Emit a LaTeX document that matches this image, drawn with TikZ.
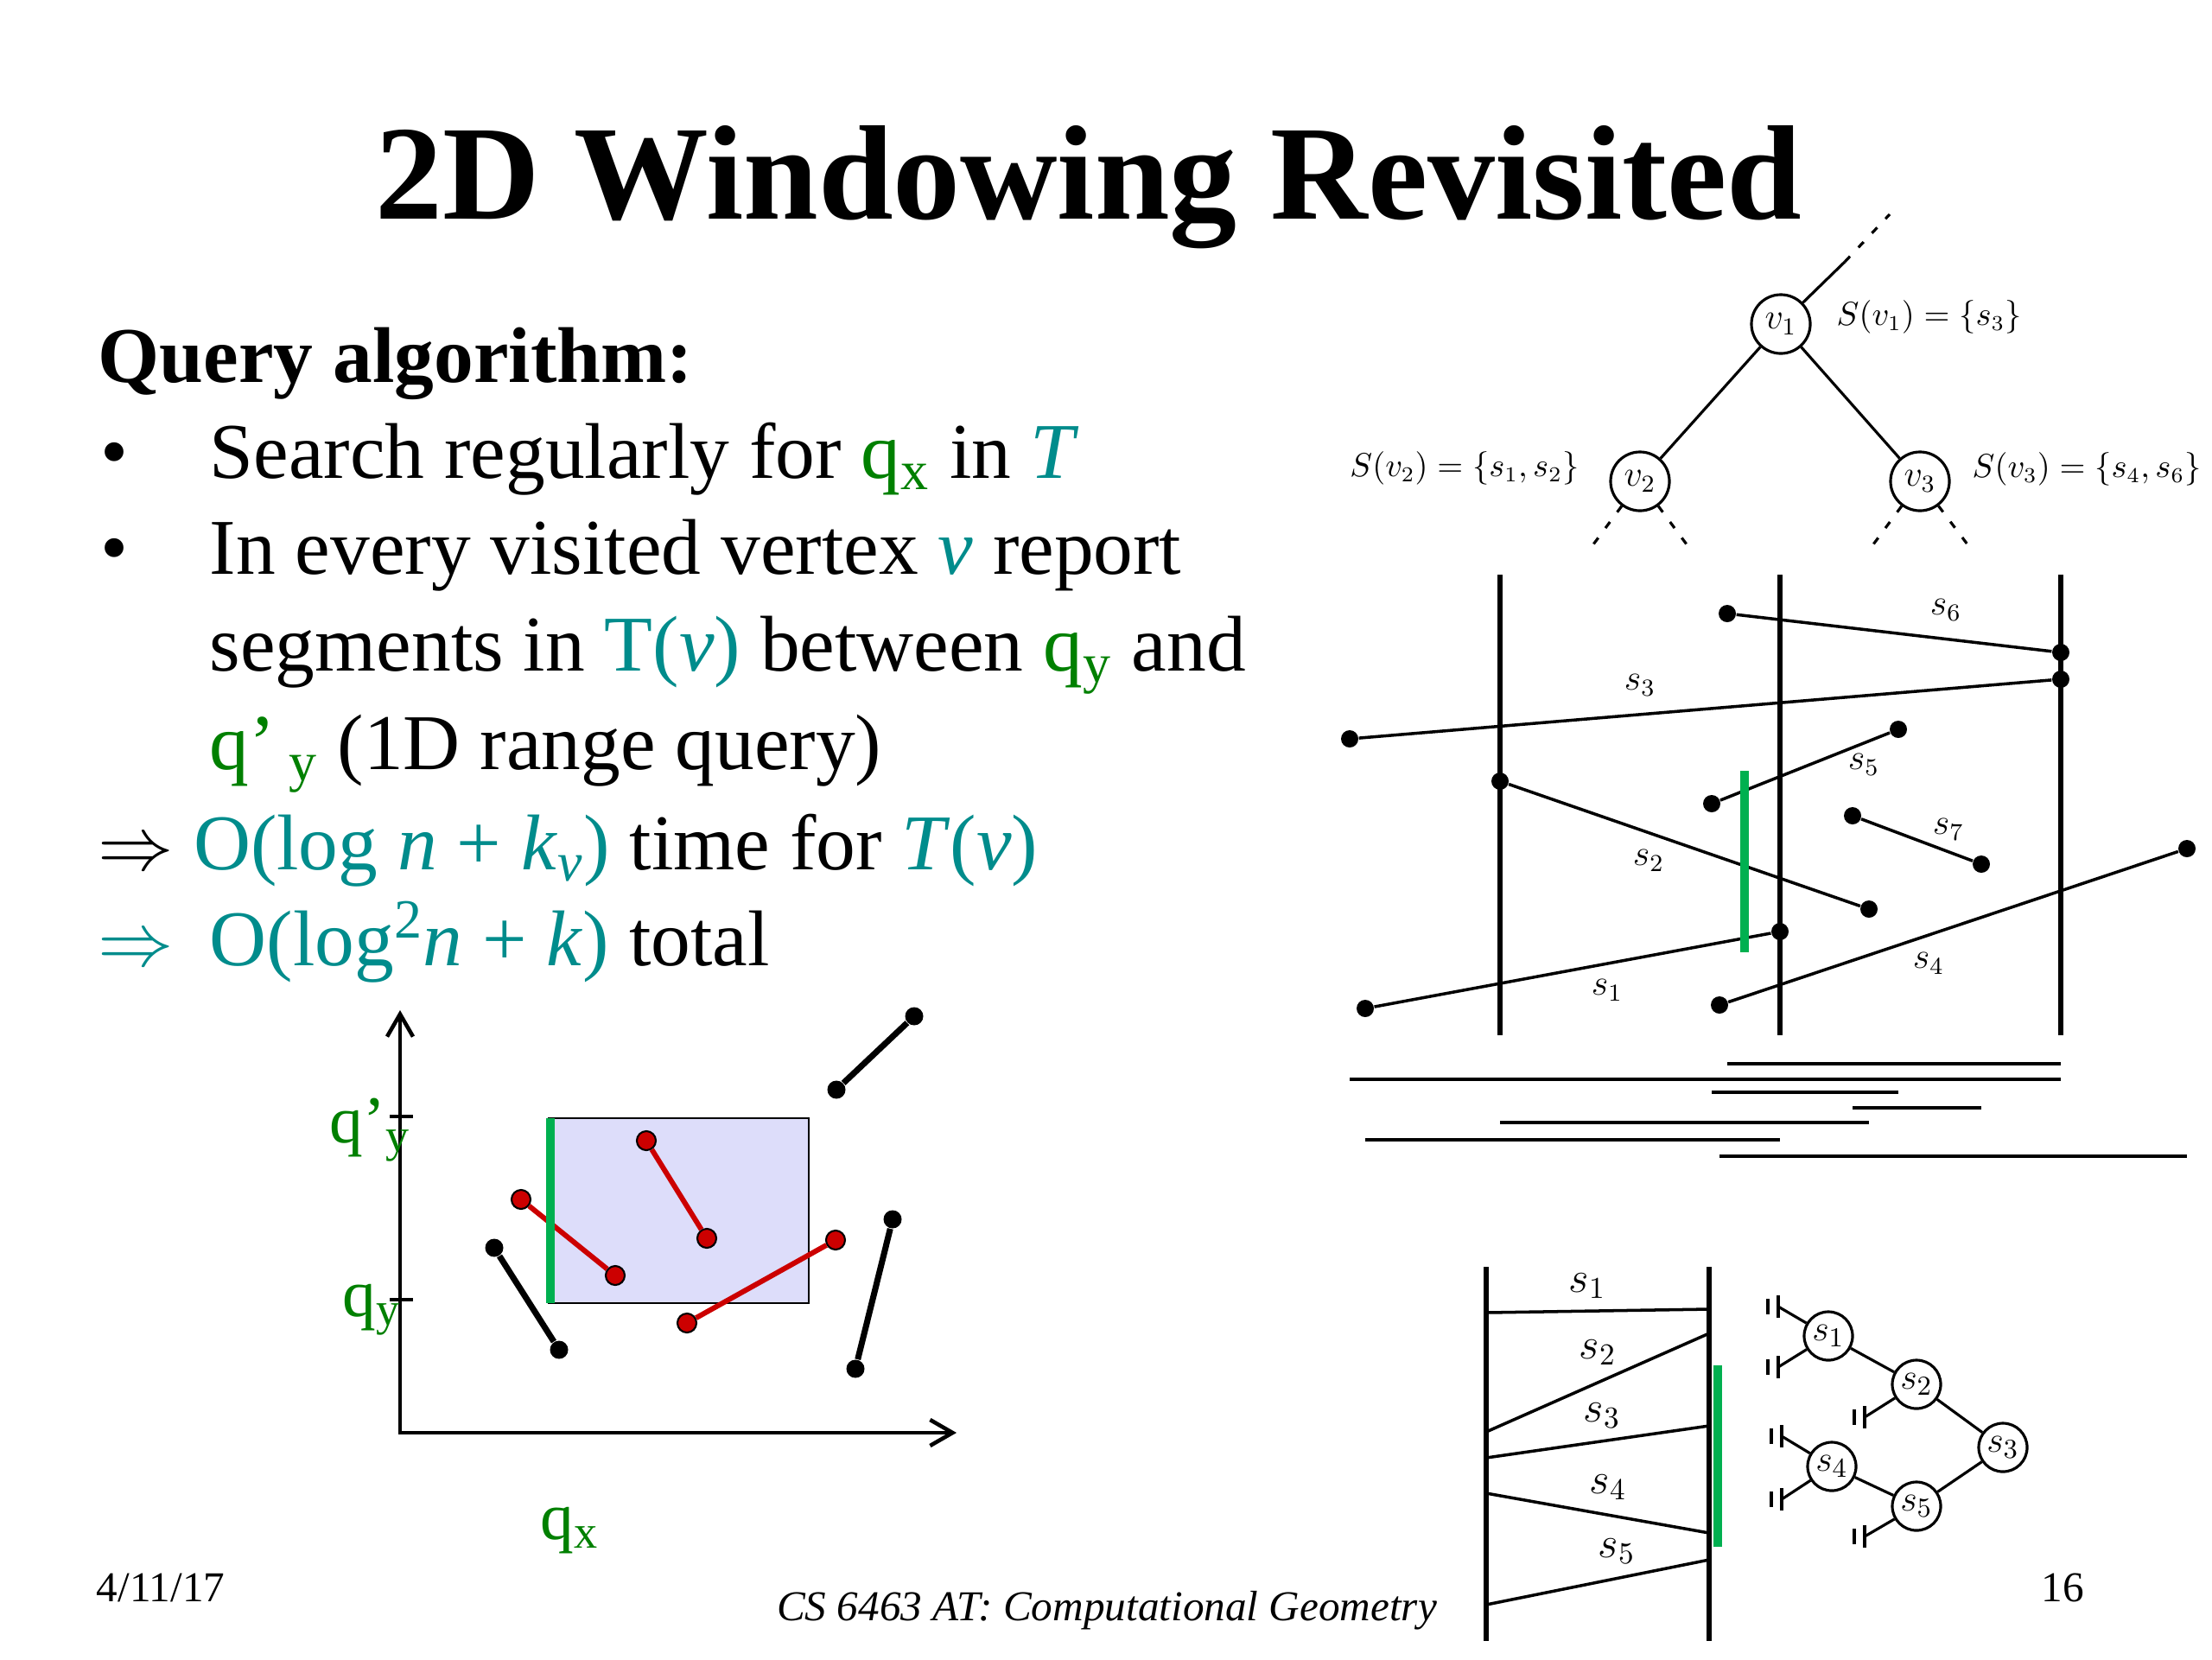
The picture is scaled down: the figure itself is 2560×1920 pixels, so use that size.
\documentclass[tikz,border=0pt]{standalone}
\usepackage{fontspec}
\setmainfont{Liberation Serif}
\usetikzlibrary{arrows.meta}
\definecolor{qgreen}{RGB}{0,128,0}
\definecolor{tealc}{RGB}{0,140,140}
\definecolor{barg}{RGB}{0,176,80}
\definecolor{segred}{RGB}{204,0,0}
\definecolor{winblue}{RGB}{221,221,250}
\tikzset{
  body/.style={anchor=base west, inner sep=0pt, font=\fontsize{26}{31}\selectfont},
  foot/.style={anchor=base west, inner sep=0pt, font=\fontsize{14}{17}\selectfont},
  setlab/.style={inner sep=0pt, font=\fontsize{10.5}{13}\selectfont},
  seglab/.style={inner sep=0pt, font=\fontsize{12}{14}\selectfont},
  slablab/.style={inner sep=0pt, font=\fontsize{14}{16}\selectfont},
  plotlab/.style={anchor=base west, inner sep=0pt, text=qgreen, font=\fontsize{22}{26}\selectfont},
  dot/.style={circle, fill=black, inner sep=0pt, minimum size=0.2cm},
  reddot/.style={circle, fill=segred, draw=black, line width=0.6pt, inner sep=0pt, minimum size=0.22cm},
  seg/.style={line width=1pt},
  slab/.style={line width=1.7pt},
  proj/.style={line width=1.1pt},
  query/.style={draw=barg, line width=2.8pt},
  axis/.style={line width=1.3pt},
  tnode/.style={circle, draw, line width=0.9pt, inner sep=0pt, minimum size=0.68cm, font=\fontsize{11.5}{14}\selectfont},
  snode/.style={circle, draw, line width=0.9pt, inner sep=0pt, minimum size=0.56cm, font=\fontsize{13}{15}\selectfont},
  dots/.style={line width=0.9pt, dash pattern=on 2.5pt off 4pt},
}
\newcommand\leafbars[1]{%
  \draw[line width=0.9pt] ([yshift=0.13cm]#1) -- ([yshift=-0.13cm]#1);
  \draw[line width=1.4pt] ([xshift=-0.12cm,yshift=0.09cm]#1) -- ([xshift=-0.12cm,yshift=-0.09cm]#1);}
\begin{document}
\begin{tikzpicture}[x=0.01cm, y=-0.01cm]
\useasboundingbox (0,0) rectangle (2560,1920);
\fill[white] (0,0) rectangle (2560,1920);

% title and text
\node[anchor=base, inner sep=0pt, font=\fontsize{44.3}{50}\selectfont\bfseries] (title) at (1260,253) {2D Windowing Revisited};
\node[body, font=\fontsize{26}{31}\selectfont\bfseries] (head) at (113,442) {Query algorithm:};
\node[body] (b1) at (116,553) {\textbullet};
\node[body] (l1) at (242,553) {Search regularly for \textcolor{qgreen}{q\textsubscript{x}} in \textcolor{tealc}{\textit{T}}};
\node[body] (b2) at (116,664) {\textbullet};
\node[body] (l2) at (242,664) {In every visited vertex \textcolor{tealc}{\textit{v}} report};
\node[body] (l3) at (242,776) {segments in \textcolor{tealc}{T(\textit{v})} between \textcolor{qgreen}{q\textsubscript{y}} and};
\node[body] (l4) at (242,890) {\textcolor{qgreen}{q'\,\textsubscript{y}} (1D range query)};
\node[body] (l5) at (113,1006) {$\Rightarrow$ \textcolor{tealc}{O(log \textit{n} + \textit{k}\textsubscript{\textit{v}})} time for \textcolor{tealc}{\textit{T}(\textit{v})}};
\node[body] (a6) at (113,1117) {\textcolor{tealc}{$\Rightarrow$}};
\node[body] (l6) at (242,1117) {\textcolor{tealc}{O(log\textsuperscript{2}\textit{n} + \textit{k})} total};

% footer
\node[foot] (date) at (111,1853) {4/11/17};
\node[foot, anchor=base, font=\fontsize{14}{17}\selectfont\itshape] (course) at (1281,1875) {CS 6463 AT: Computational Geometry};
\node[foot] (page) at (2362,1853) {16};

% top tree
\node[tnode] (v1) at (2061,375) {$v_1$};
\node[tnode] (v2) at (1898,557) {$v_2$};
\node[tnode] (v3) at (2222,557) {$v_3$};
\coordinate (up) at (2135,303);
\coordinate (upend) at (2187,248);
\coordinate (v2l) at (1844,630);
\coordinate (v2r) at (1952,630);
\coordinate (v3l) at (2168,630);
\coordinate (v3r) at (2277,630);
\draw[line width=0.9pt] (v1) -- (v2);
\draw[line width=0.9pt] (v1) -- (v3);
\draw[line width=0.9pt] (v1) -- (up);
\draw[dots] (up) -- (upend);
\draw[dots] (v2) -- (v2l);
\draw[dots] (v2) -- (v2r);
\draw[dots] (v3) -- (v3l);
\draw[dots] (v3) -- (v3r);
\node[setlab, anchor=west] (sv1) at (2125,367) {$S(v_1)=\{s_3\}$};
\node[setlab, anchor=east] (sv2) at (1828,542) {$S(v_2)=\{s_1,s_2\}$};
\node[setlab, anchor=west] (sv3) at (2282,543) {$S(v_3)=\{s_4,s_6\}$};

% slabs with segments
\draw[slab] (1736,665) -- (1736,1198);
\draw[slab] (2060,665) -- (2060,1198);
\draw[slab] (2385,665) -- (2385,1198);
\node[dot] (s6l) at (1999,710) {};
\node[dot] (s6r) at (2385,755) {};
\node[dot] (s3l) at (1562,855) {};
\node[dot] (s3r) at (2385,786) {};
\node[dot] (s5l) at (1981,930) {};
\node[dot] (s5r) at (2197,844) {};
\node[dot] (s7l) at (2144,944) {};
\node[dot] (s7r) at (2293,1000) {};
\node[dot] (s2l) at (1736,904) {};
\node[dot] (s2r) at (2163,1052) {};
\node[dot] (s1l) at (1580,1167) {};
\node[dot] (s1r) at (2060,1078) {};
\node[dot] (s4l) at (1990,1163) {};
\node[dot] (s4r) at (2531,982) {};
\draw[seg] (s6l) -- (s6r);
\draw[seg] (s3l) -- (s3r);
\draw[seg] (s5l) -- (s5r);
\draw[seg] (s7l) -- (s7r);
\draw[seg] (s2l) -- (s2r);
\draw[seg] (s1l) -- (s1r);
\draw[seg] (s4l) -- (s4r);
\draw[query] (2019,892) -- (2019,1102);
\node[seglab] (ls6) at (2252,706) {$s_6$};
\node[seglab] (ls3) at (1898,793) {$s_3$};
\node[seglab] (ls5) at (2157,885) {$s_5$};
\node[seglab] (ls7) at (2255,960) {$s_7$};
\node[seglab] (ls2) at (1908,996) {$s_2$};
\node[seglab] (ls1) at (1860,1146) {$s_1$};
\node[seglab] (ls4) at (2232,1115) {$s_4$};

% x-projections
\coordinate (p1) at (0,1231);
\coordinate (p2) at (0,1249);
\coordinate (p3) at (0,1264);
\coordinate (p4) at (0,1282);
\coordinate (p5) at (0,1299);
\coordinate (p6) at (0,1319);
\coordinate (p7) at (0,1338);
\draw[proj] (s6l |- p1) -- (s6r |- p1);
\draw[proj] (s3l |- p2) -- (s3r |- p2);
\draw[proj] (s5l |- p3) -- (s5r |- p3);
\draw[proj] (s7l |- p4) -- (s7r |- p4);
\draw[proj] (s2l |- p5) -- (s2r |- p5);
\draw[proj] (s1l |- p6) -- (s1r |- p6);
\draw[proj] (s4l |- p7) -- (s4r |- p7);

% one slab and its tree
\draw[slab] (1720,1466) -- (1720,1899);
\draw[slab] (1978,1466) -- (1978,1899);
\draw[seg] (1720,1519) -- (1978,1515);
\draw[seg] (1720,1657) -- (1978,1543);
\draw[seg] (1720,1687) -- (1978,1650);
\draw[seg] (1720,1728) -- (1978,1774);
\draw[seg] (1720,1857) -- (1978,1805);
\draw[query] (1988,1580) -- (1988,1790);
\node[slablab] (ss1) at (1837,1488) {$s_1$};
\node[slablab] (ss2) at (1849,1565) {$s_2$};
\node[slablab] (ss3) at (1854,1638) {$s_3$};
\node[slablab] (ss4) at (1861,1721) {$s_4$};
\node[slablab] (ss5) at (1871,1795) {$s_5$};

\node[snode] (t1) at (2116,1546) {$s_1$};
\node[snode] (t2) at (2218,1602) {$s_2$};
\node[snode] (t3) at (2318,1675) {$s_3$};
\node[snode] (t4) at (2120,1697) {$s_4$};
\node[snode] (t5) at (2218,1743) {$s_5$};
\draw[line width=0.9pt] (t1) -- (t2);
\draw[line width=0.9pt] (t2) -- (t3);
\draw[line width=0.9pt] (t3) -- (t5);
\draw[line width=0.9pt] (t5) -- (t4);
\coordinate (f1) at (2058,1512);
\coordinate (f2) at (2058,1582);
\coordinate (f3) at (2158,1640);
\coordinate (f4) at (2062,1662);
\coordinate (f5) at (2062,1735);
\coordinate (f6) at (2158,1778);
\draw[line width=0.9pt] (t1) -- (f1);
\draw[line width=0.9pt] (t1) -- (f2);
\draw[line width=0.9pt] (t2) -- (f3);
\draw[line width=0.9pt] (t4) -- (f4);
\draw[line width=0.9pt] (t4) -- (f5);
\draw[line width=0.9pt] (t5) -- (f6);
\leafbars{f1}
\leafbars{f2}
\leafbars{f3}
\leafbars{f4}
\leafbars{f5}
\leafbars{f6}

% query window plot
\coordinate (O) at (463,1658);
\coordinate (ytip) at (463,1169);
\coordinate (xtip) at (1107,1658);
\filldraw[fill=winblue, draw=black, line width=0.5pt] (635,1294) rectangle (936,1508);
\draw[axis, {Straight Barb[length=0.26cm,width=0.3cm]}-{Straight Barb[length=0.26cm,width=0.3cm]}] (ytip) -- (O) -- (xtip);
\draw[line width=0.9pt] (451,1292) -- (478,1292);
\draw[line width=0.9pt] (451,1504) -- (478,1504);
\node[reddot] (r1a) at (603,1388) {};
\node[reddot] (r1b) at (712,1476) {};
\node[reddot] (r2a) at (748,1320) {};
\node[reddot] (r2b) at (818,1433) {};
\node[reddot] (r3a) at (795,1531) {};
\node[reddot] (r3b) at (967,1435) {};
\node[dot, minimum size=0.21cm] (k1a) at (572,1444) {};
\node[dot, minimum size=0.21cm] (k1b) at (647,1562) {};
\node[dot, minimum size=0.21cm] (k2a) at (968,1261) {};
\node[dot, minimum size=0.21cm] (k2b) at (1058,1176) {};
\node[dot, minimum size=0.21cm] (k3a) at (990,1584) {};
\node[dot, minimum size=0.21cm] (k3b) at (1033,1411) {};
\draw[segred, line width=1.7pt] (r1a) -- (r1b);
\draw[segred, line width=1.7pt] (r2a) -- (r2b);
\draw[segred, line width=1.7pt] (r3a) -- (r3b);
\draw[line width=2pt] (k1a) -- (k1b);
\draw[line width=2pt] (k2a) -- (k2b);
\draw[line width=2pt] (k3a) -- (k3b);
\draw[query] (637,1294) -- (637,1508);
\node[plotlab] (qy2) at (381,1322) {q'\textsubscript{y}};
\node[plotlab] (qy1) at (396,1523) {q\textsubscript{y}};
\node[plotlab] (qx) at (625,1781) {q\textsubscript{x}};
\end{tikzpicture}
\end{document}
